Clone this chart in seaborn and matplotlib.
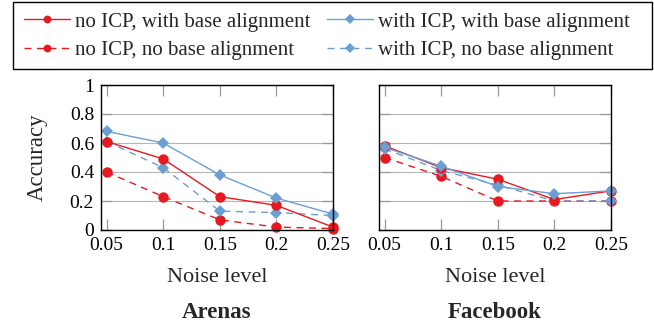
import matplotlib
matplotlib.use("Agg")
import matplotlib.pyplot as plt
from matplotlib.patches import Rectangle
import seaborn as sns
import pandas as pd

# noise levels on the x axis
noise = [0.05, 0.1, 0.15, 0.2, 0.25]
noise_labels = ["0.05", "0.1", "0.15", "0.2", "0.25"]
acc_ticks = [0, 0.2, 0.4, 0.6, 0.8, 1]
acc_labels = ["0", "0.2", "0.4", "0.6", "0.8", "1"]

# Arenas
arenas_noicp_base = [0.61, 0.49, 0.23, 0.17, 0.02]
arenas_icp_base = [0.68, 0.60, 0.38, 0.22, 0.11]
arenas_noicp_nobase = [0.40, 0.23, 0.07, 0.02, 0.01]
arenas_icp_nobase = [0.61, 0.43, 0.13, 0.12, 0.10]

# Facebook
fb_noicp_base = [0.58, 0.43, 0.35, 0.21, 0.27]
fb_icp_base = [0.57, 0.44, 0.30, 0.25, 0.27]
fb_noicp_nobase = [0.50, 0.37, 0.20, 0.20, 0.20]
fb_icp_nobase = [0.56, 0.41, 0.31, 0.20, 0.20]

series_names = ["no ICP, with base alignment", "with ICP, with base alignment",
                "no ICP, no base alignment", "with ICP, no base alignment"]
datasets = ["Arenas", "Facebook"]

red = "#e8191e"
blue = "#6b9fd1"
dash = (0, (5, 4))
styles = {
    "no ICP, with base alignment": dict(color=red, marker="o", linestyle="-"),
    "with ICP, with base alignment": dict(color=blue, marker="D", linestyle="-"),
    "no ICP, no base alignment": dict(color=red, marker="o", linestyle=dash),
    "with ICP, no base alignment": dict(color=blue, marker="D", linestyle=dash),
}

values = {
    "Arenas": [arenas_noicp_base, arenas_icp_base, arenas_noicp_nobase, arenas_icp_nobase],
    "Facebook": [fb_noicp_base, fb_icp_base, fb_noicp_nobase, fb_icp_nobase],
}

sns.set_theme(style="ticks")
plt.rcParams["font.family"] = ["Liberation Serif", "DejaVu Serif"]

fig = plt.figure(figsize=(6.54, 3.26), dpi=100)
ax_left = fig.add_axes([101 / 654, 96 / 326, 232 / 654, 145 / 326])
ax_right = fig.add_axes([379 / 654, 96 / 326, 232 / 654, 145 / 326])

# dashed first so the solid lines sit on top
order = [2, 3, 0, 1]
for ax, name in zip([ax_left, ax_right], datasets):
    for i in order:
        s = series_names[i]
        df = pd.DataFrame({"noise": noise, "acc": values[name][i]})
        st = styles[s]
        ms = 7.5 if st["marker"] == "o" else 6.5
        sns.lineplot(data=df, x="noise", y="acc", ax=ax, color=st["color"],
                     marker=st["marker"], linestyle=st["linestyle"], markersize=ms,
                     markeredgewidth=0, linewidth=1.0, label=s, legend=False,
                     clip_on=False)
    ax.set_xlim(0.045, 0.25)
    ax.set_ylim(0, 1)
    ax.set_xticks(noise)
    ax.set_xticklabels(noise_labels)
    ax.set_yticks(acc_ticks)
    ax.yaxis.grid(True, color="#b5b5b5", linewidth=0.8)
    ax.set_axisbelow(True)
    ax.tick_params(direction="in", top=True, right=True, length=8, width=0.9,
                   color="#999999", labelsize=14, pad=5, labelcolor="black")
    for sp in ax.spines.values():
        sp.set_color("black")
        sp.set_linewidth(1.0)
    ax.set_xlabel("Noise level", fontsize=16)
    ax.xaxis.set_label_coords(0.5, -(277 - 230) / 145)
    ax.xaxis.label.set_va("center")
    ax.text(0.5, -(313 - 230) / 145, name, transform=ax.transAxes, ha="center",
            va="center", fontsize=16.5, fontweight="bold")

ax_left.set_ylabel("Accuracy", fontsize=16.5)
ax_left.yaxis.set_label_coords((37 - 101) / 232, 0.5)
ax_left.yaxis.label.set_va("center")
ax_left.set_yticklabels(acc_labels)
ax_right.set_ylabel("")
ax_right.tick_params(labelleft=False)

# legend box drawn by hand so it spans the figure like the original
fig.patches.append(Rectangle((13 / 654, 1 - 69 / 326), 639 / 654, 67 / 326,
                             transform=fig.transFigure, fill=False,
                             edgecolor="black", linewidth=1.0))

handles, labels = ax_left.get_legend_handles_labels()
hmap = dict(zip(labels, handles))
leg_order = [0, 2, 1, 3]
fig.legend([hmap[series_names[i]] for i in leg_order],
           [series_names[i] for i in leg_order], ncol=2,
           loc="upper left", bbox_to_anchor=(22 / 654, 1 - 10 / 326),
           fontsize=15, frameon=False, borderaxespad=0, borderpad=0.1,
           handlelength=2.2, handletextpad=0.25, columnspacing=0.8,
           labelspacing=0.42, markerscale=0.75)

fig.savefig("out.png", dpi=100)
